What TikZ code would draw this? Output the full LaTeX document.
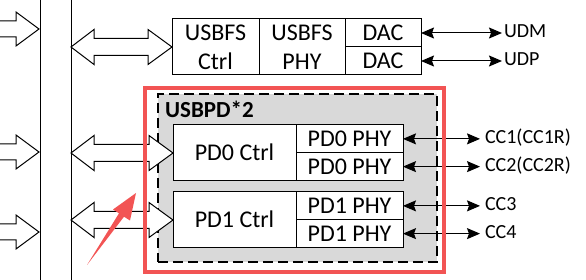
\documentclass[tikz,border=0pt]{standalone}
\usepackage{fontspec}
\setmainfont{Carlito}
\usetikzlibrary{arrows.meta, positioning}
\definecolor{markred}{RGB}{242,84,84}
\definecolor{groupgray}{RGB}{217,217,217}

\begin{document}
\begin{tikzpicture}[x=1pt, y=-1pt, node distance=0pt, >={Stealth[length=13pt, width=11pt, inset=2pt]}]
        % Styles
        \tikzset{
            cellbox/.style={draw, fill=white, line width=1pt, rectangle, inner sep=0pt, outer sep=0pt, align=center, font=\fontsize{24}{29}\selectfont},
            sigtext/.style={inner sep=2pt, outer sep=0pt, anchor=west, font=\fontsize{20}{24}\selectfont, text height=13pt, text depth=3pt},
            blockarrow/.style={draw, fill=white, line width=1pt, line join=miter},
            busline/.style={line width=1pt},
            sigline/.style={<->, line width=1pt},
            groupbox/.style={draw, fill=groupgray, dashed, dash pattern=on 10pt off 5pt, line width=2.2pt, minimum width=279pt, minimum height=168pt, inner sep=0pt},
            redframe/.style={draw=markred, line width=3.5pt, minimum width=299pt, minimum height=184pt, inner sep=0pt}
        }
        \useasboundingbox (0,0) rectangle (586,280);
        \clip (0,0) rectangle (586,280);

        % Bus lines
        \draw [busline] (40,0) -- (40,280);
        \draw [busline] (71,0) -- (71,280);

        % Group background
        \node [groupbox] (pdgroup) at (297.5,178) {};
        \node [below right=6pt and 6pt of pdgroup.north west, inner sep=2pt, font=\fontsize{23}{27}\selectfont\bfseries] (pdtitle) {USBPD*2};

        % USBFS blocks
        \node [cellbox, minimum width=87pt, minimum height=56pt] (fsctrl) at (215.5,47) {USBFS\\Ctrl};
        \node [cellbox, minimum width=86pt, minimum height=56pt, right=0pt of fsctrl] (fsphy) {USBFS\\PHY};
        \node [cellbox, minimum width=76pt, minimum height=28pt, below right=0pt and 0pt of fsphy.north east] (daca) {DAC};
        \node [cellbox, minimum width=76pt, minimum height=28pt, below=0pt of daca] (dacb) {DAC};

        % USBPD blocks
        \node [cellbox, minimum width=123pt, minimum height=55.5pt] (pd0ctrl) at (234.5,152.75) {PD0 Ctrl};
        \node [cellbox, minimum width=107pt, minimum height=27.75pt, below right=0pt and 0pt of pd0ctrl.north east] (pd0phya) {PD0 PHY};
        \node [cellbox, minimum width=107pt, minimum height=27.75pt, below=0pt of pd0phya] (pd0phyb) {PD0 PHY};
        \node [cellbox, minimum width=123pt, minimum height=55.5pt, below=11.5pt of pd0ctrl] (pd1ctrl) {PD1 Ctrl};
        \node [cellbox, minimum width=107pt, minimum height=27.75pt, below right=0pt and 0pt of pd1ctrl.north east] (pd1phya) {PD1 PHY};
        \node [cellbox, minimum width=107pt, minimum height=27.75pt, below=0pt of pd1phya] (pd1phyb) {PD1 PHY};

        % Pin labels
        \node [sigtext, right=81pt of daca] (udm) {UDM};
        \node [sigtext, right=81pt of dacb] (udp) {UDP};
        \node [sigtext, inner xsep=5pt, right=77pt of pd0phya] (cca) {CC1(CC1R)};
        \node [sigtext, inner xsep=5pt, right=77pt of pd0phyb] (ccb) {CC2(CC2R)};
        \node [sigtext, inner xsep=5pt, right=77pt of pd1phya] (ccc) {CC3};
        \node [sigtext, inner xsep=5pt, right=77pt of pd1phyb] (ccd) {CC4};

        % Pin arrows
        \draw [sigline] (daca) -- (udm);
        \draw [sigline] (dacb) -- (udp);
        \draw [sigline] (pd0phya) -- (cca);
        \draw [sigline] (pd0phyb) -- (ccb);
        \draw [sigline] (pd1phya) -- (ccc);
        \draw [sigline] (pd1phyb) -- (ccd);

        % Block arrows into the bus
        \foreach \y in {29,152,232} {
            \draw [blockarrow] (-5,\y-8) -- (16,\y-8) -- (16,\y-17) -- (39,\y) -- (16,\y+17) -- (16,\y+8) -- (-5,\y+8);
        }
        % Block arrows bus to controllers
        \foreach \y/\xr in {47/172, 153/173, 220/173} {
            \draw [blockarrow] (71,\y) -- (94,\y-17.5) -- (94,\y-8.5) -- (\xr-24,\y-8.5) -- (\xr-24,\y-17.5) -- (\xr,\y)
                -- (\xr-24,\y+17.5) -- (\xr-24,\y+8.5) -- (94,\y+8.5) -- (94,\y+17.5) -- cycle;
        }

        % Highlight
        \node [redframe] (hilite) at (294.5,180) {};
        \fill [markred] (87,265) -- (119,213.3) -- (113,209.5) -- (136,193) -- (130,220.5) -- (124,216.7) -- cycle;
    \end{tikzpicture}
\end{document}
